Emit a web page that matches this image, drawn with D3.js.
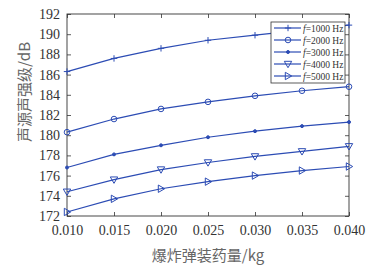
<!DOCTYPE html>
<html>
<head>
<meta charset="utf-8">
<script src="https://cdn.jsdelivr.net/npm/d3@7"></script>
<style>
  body { margin: 0; background: #fff; }
  svg text { font-family: "Liberation Serif", "DejaVu Serif", serif; }
</style>
</head>
<body>
<div id="chart"></div>
<script>
const charge = [0.010, 0.015, 0.020, 0.025, 0.030, 0.035, 0.040];
const freqs = ["1000", "2000", "3000", "4000", "5000"];
const f1000 = [186.3, 187.6, 188.6, 189.4, 189.9, 190.4, 190.9];
const f2000 = [180.3, 181.6, 182.6, 183.3, 183.9, 184.4, 184.8];
const f3000 = [176.8, 178.1, 179.0, 179.8, 180.4, 180.9, 181.3];
const f4000 = [174.4, 175.6, 176.6, 177.3, 177.9, 178.4, 178.9];
const f5000 = [172.4, 173.7, 174.7, 175.4, 176.0, 176.5, 176.9];
const yTicks = [172, 174, 176, 178, 180, 182, 184, 186, 188, 190, 192];
const markers = ["plus", "circle", "star", "down", "right"];

const series = [f1000, f2000, f3000, f4000, f5000].map((vals, k) => ({
  freq: freqs[k], marker: markers[k],
  points: vals.map((v, i) => ({x: charge[i], y: v}))
}));

const width = 368, height = 267;
const margin = {top: 14, right: 19, bottom: 51, left: 67};
const blue = "#2c4cb4";

const svg = d3.select("#chart").append("svg")
  .attr("width", width)
  .attr("height", height);

const x = d3.scaleLinear()
  .domain([0.010, 0.040])
  .range([margin.left, width - margin.right]);
const y = d3.scaleLinear()
  .domain([172, 192])
  .range([height - margin.bottom, margin.top]);

// axes, ticks pointing inward on all four sides
const tk = 4;
svg.append("g")
  .attr("transform", `translate(0,${height - margin.bottom})`)
  .call(d3.axisBottom(x).tickValues(charge).tickSizeInner(-tk).tickSizeOuter(0)
    .tickPadding(9).tickFormat(d3.format(".3f")))
  .call(g => g.select(".domain").remove());
svg.append("g")
  .attr("transform", `translate(0,${margin.top})`)
  .call(d3.axisTop(x).tickValues(charge).tickSizeInner(-tk).tickSizeOuter(0).tickFormat(""))
  .call(g => g.select(".domain").remove());
svg.append("g")
  .attr("transform", `translate(${margin.left},0)`)
  .call(d3.axisLeft(y).tickValues(yTicks).tickSizeInner(-tk).tickSizeOuter(0).tickPadding(7))
  .call(g => g.select(".domain").remove());
svg.append("g")
  .attr("transform", `translate(${width - margin.right},0)`)
  .call(d3.axisRight(y).tickValues(yTicks).tickSizeInner(-tk).tickSizeOuter(0).tickFormat(""))
  .call(g => g.select(".domain").remove());

svg.selectAll(".tick line").attr("stroke", "#333").attr("stroke-width", 0.8);
svg.selectAll(".tick text")
  .attr("fill", "#333")
  .style("font-family", "'Liberation Serif', serif")
  .style("font-size", "14px");

svg.append("rect")
  .attr("x", margin.left)
  .attr("y", margin.top)
  .attr("width", width - margin.left - margin.right)
  .attr("height", height - margin.top - margin.bottom)
  .attr("fill", "none")
  .attr("stroke", "#333")
  .attr("stroke-width", 0.9);

// marker shapes, drawn around (0,0)
function marker(sel, type) {
  const s = 3.2;
  sel.attr("fill", "none").attr("stroke", blue).attr("stroke-width", 1);
  if (type === "plus") {
    sel.append("path").attr("d", `M${-s},0H${s}M0,${-s}V${s}`);
  } else if (type === "circle") {
    sel.append("circle").attr("r", 2.8);
  } else if (type === "star") {
    sel.append("circle").attr("r", 1.5).attr("fill", blue);
  } else if (type === "down") {
    sel.append("path").attr("d", `M${-s - 0.5},${-s + 0.5}L${s + 0.5},${-s + 0.5}L0,${s + 0.5}Z`);
  } else if (type === "right") {
    sel.append("path").attr("d", `M${-s + 0.5},${-s - 0.5}L${-s + 0.5},${s + 0.5}L${s + 0.5},0Z`);
  }
}

const line = d3.line().x(d => x(d.x)).y(d => y(d.y));

const sg = svg.append("g").selectAll("g").data(series).join("g");
sg.append("path")
  .attr("d", d => line(d.points))
  .attr("fill", "none")
  .attr("stroke", blue)
  .attr("stroke-width", 1.2);
sg.each(function(s) {
  d3.select(this).selectAll(".m")
    .data(s.points)
    .join("g")
    .attr("class", "m")
    .attr("transform", d => `translate(${x(d.x)},${y(d.y)})`)
    .each(function() { marker(d3.select(this), s.marker); });
});

// legend
const lg = svg.append("g").attr("transform", "translate(271,22)");
lg.append("rect")
  .attr("width", 74).attr("height", 61)
  .attr("fill", "#fff")
  .attr("stroke", "#333")
  .attr("stroke-width", 0.8);
const li = lg.selectAll(".li").data(series).join("g")
  .attr("class", "li")
  .attr("transform", (d, i) => `translate(0,${6 + i * 12})`);
li.append("line")
  .attr("x1", 3).attr("x2", 30)
  .attr("stroke", blue).attr("stroke-width", 1.2);
li.append("g")
  .attr("transform", "translate(17,0)")
  .each(function(d) { marker(d3.select(this), d.marker); });
const lt = li.append("text")
  .attr("x", 32).attr("y", 3.5)
  .attr("fill", "#333")
  .style("font-size", "9.5px");
lt.append("tspan").attr("font-style", "italic").text("f");
lt.append("tspan").text(d => `=${d.freq} Hz`);

// axis titles
svg.append("text")
  .attr("x", (margin.left + width - margin.right) / 2)
  .attr("y", 261)
  .attr("text-anchor", "middle")
  .attr("fill", "#666")
  .style("font-family", "'Noto Sans CJK SC', serif")
  .style("font-size", "15px")
  .text("爆炸弹装药量/kg");
svg.append("text")
  .attr("transform", "translate(30,92) rotate(-90)")
  .attr("text-anchor", "middle")
  .attr("fill", "#666")
  .style("font-family", "'Noto Sans CJK SC', serif")
  .style("font-size", "15px")
  .text("声源声强级/dB");
</script>
</body>
</html>
